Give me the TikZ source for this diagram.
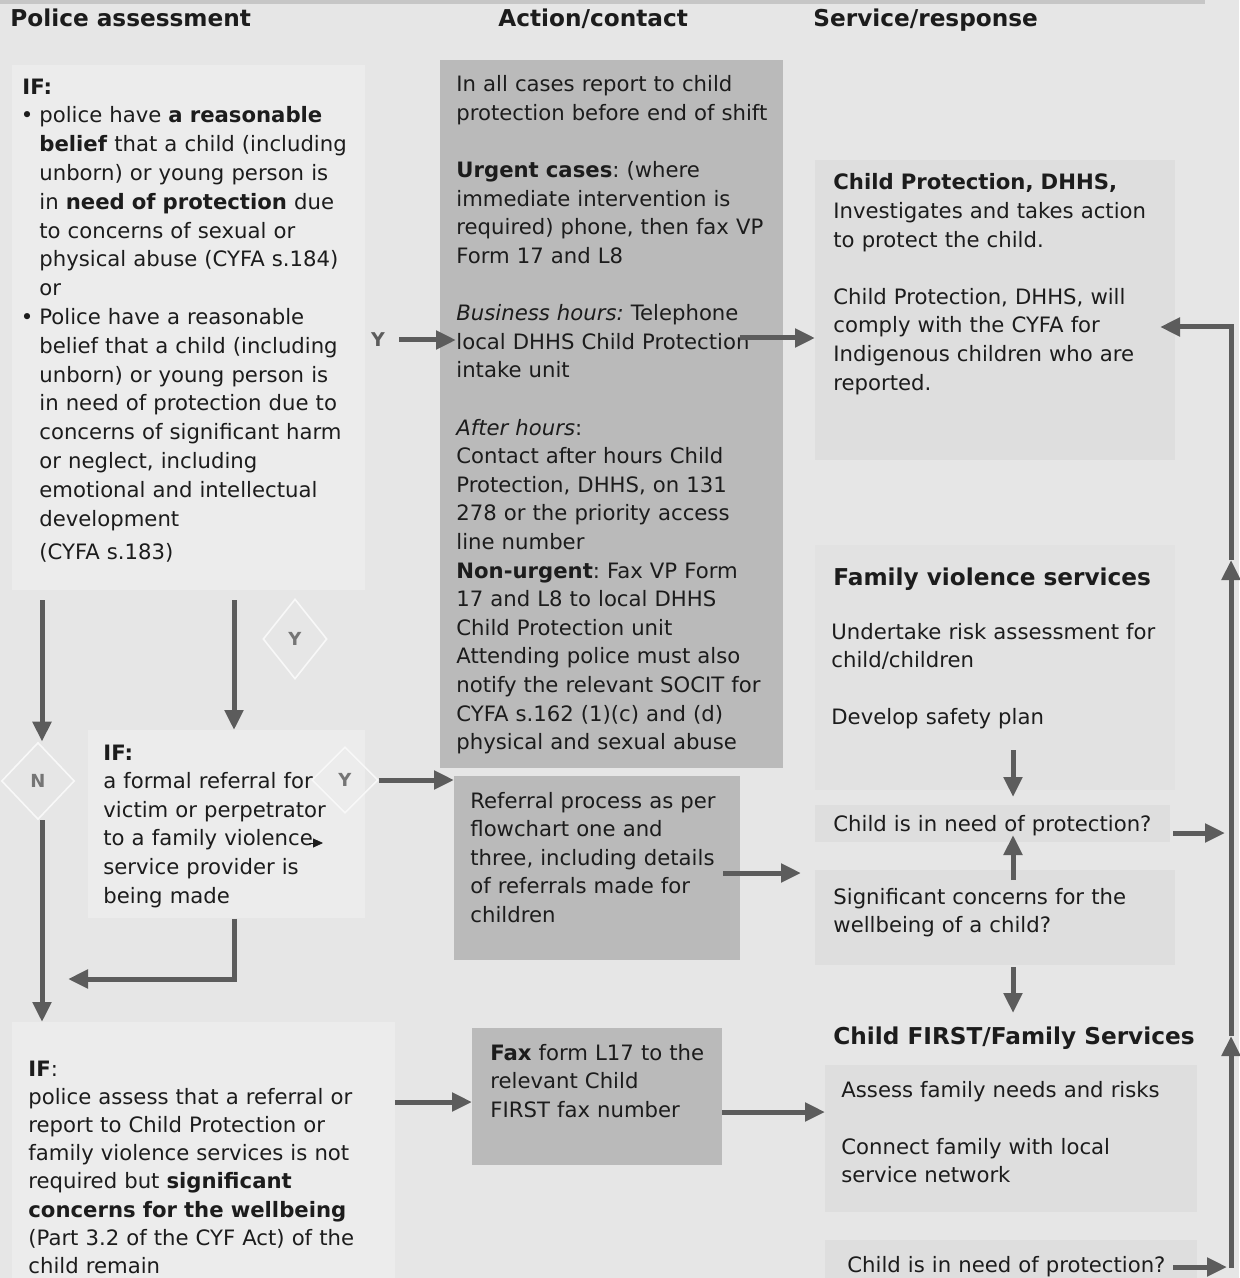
\documentclass[tikz,border=0pt]{standalone}
\usepackage{fontspec}
\setmainfont{DejaVu Sans}
\usetikzlibrary{calc,arrows.meta,shapes.geometric}
\frenchspacing

\definecolor{bggray}{HTML}{E6E6E6}
\definecolor{lgray}{HTML}{ECECEC}
\definecolor{mgray}{HTML}{BABABA}
\definecolor{rgray}{HTML}{DEDEDE}
\definecolor{fgray}{HTML}{E2E2E2}
\definecolor{arrgray}{HTML}{5C5C5C}
\definecolor{ink}{HTML}{1C1C1C}

\newcommand{\bodyfont}{\fontsize{10.6pt}{14.3pt}\selectfont}
\newcommand{\headfont}{\fontsize{11.6pt}{14pt}\selectfont\bfseries}
\newcommand{\gap}{\\[14.3pt]}

\tikzset{
  txt/.style={anchor=base west, inner sep=0pt, text width=190pt, align=left, font=\bodyfont, text=ink},
  head/.style={anchor=base west, inner sep=0pt, font=\headfont, text=ink},
  panel/.style={anchor=north west, inner sep=0pt, fill=#1},
  arr/.style={draw=arrgray, line width=2.5pt, -{Triangle[length=10pt,width=9pt]}},
  dia/.style={diamond, draw=white!70!bggray, line width=0.8pt, inner sep=0pt, font=\bfseries\fontsize{9pt}{9pt}\selectfont, text=arrgray!85},
  yes/.style={inner sep=0pt, font=\bfseries\fontsize{9.5pt}{9.5pt}\selectfont, text=arrgray}
}

\begin{document}
\begin{tikzpicture}[x=0.5pt,y=-0.5pt]
\useasboundingbox (0,0) rectangle (1239,1278);
\fill[bggray] (0,0) rectangle (1239,1278);
\fill[gray!45] (0,0) rectangle (1205,4);

\node[panel=lgray, minimum width=176.5pt, minimum height=262.5pt] (assbox) at (12,65) {};
\node[panel=mgray, minimum width=171.5pt, minimum height=354pt] (actbox) at (440,60) {};
\node[panel=rgray, minimum width=180pt, minimum height=150pt] (cpbox) at (815,160) {};
\node[panel=fgray, minimum width=180pt, minimum height=122.5pt] (fvbox) at (815,545) {};
\node[panel=rgray, minimum width=177.5pt, minimum height=18.5pt] (needbox1) at (815,805) {};
\node[panel=rgray, minimum width=180pt, minimum height=47.5pt] (sigbox) at (815,870) {};
\node[panel=rgray, minimum width=186pt, minimum height=73.5pt] (cfbox) at (825,1065) {};
\node[panel=rgray, minimum width=186pt, minimum height=20pt] (needbox2) at (825,1240) {};
\node[panel=lgray, minimum width=138.5pt, minimum height=94pt] (fbox) at (88,730) {};
\node[panel=mgray, minimum width=143pt, minimum height=92pt] (refbox) at (454,776) {};
\node[panel=lgray, minimum width=191.5pt, minimum height=130pt] (bbox) at (12,1022) {};
\node[panel=mgray, minimum width=125pt, minimum height=68.5pt] (fxbox) at (472,1028) {};

\node[head] (hpol) at (10,27) {Police assessment};
\node[head] (hact) at (498,27) {Action/contact};
\node[head] (hser) at (813,27) {Service/response};

\node[txt] (iftop) at (22,95) {\textbf{IF:}};
\node[txt, font=\fontsize{10.6pt}{14.4pt}\selectfont] (crit) at (39,123) {\leavevmode\llap{•\hspace{3pt}}police have \textbf{a reasonable}\\\textbf{belief} that a child (including\\unborn) or young person is\\in \textbf{need of protection} due\\to concerns of sexual or\\physical abuse (CYFA s.184)\\or\\\leavevmode\llap{•\hspace{3pt}}Police have a reasonable\\belief that a child (including\\unborn) or young person is\\in need of protection due to\\concerns of significant harm\\or neglect, including\\emotional and intellectual\\development\\[2.2pt](CYFA s.183)};

\node[txt] (acttxt) at (456,92) {In all cases report to child\\protection before end of shift\gap \textbf{Urgent cases}: (where\\immediate intervention is\\required) phone, then fax VP\\Form 17 and L8\gap \textit{Business hours:} Telephone\\local DHHS Child Protection\\intake unit\gap \textit{After hours}:\\Contact after hours Child\\Protection, DHHS, on 131\\278 or the priority access\\line number\\\textbf{Non-urgent}: Fax VP Form\\17 and L8 to local DHHS\\Child Protection unit\\Attending police must also\\notify the relevant SOCIT for\\CYFA s.162 (1)(c) and (d)\\physical and sexual abuse};

\node[txt] (cptxt) at (833,190) {\textbf{Child Protection, DHHS,}\\Investigates and takes action\\to protect the child.\gap Child Protection, DHHS, will\\comply with the CYFA for\\Indigenous children who are\\reported.};

\node[head] (fvhead) at (833,585) {Family violence services};
\node[txt] (fvtxt) at (831,639) {Undertake risk assessment for\\child/children\gap Develop safety plan};
\node[txt] (need1) at (833,831) {Child is in need of protection?};
\node[txt] (sigtxt) at (833,904) {Significant concerns for the\\wellbeing of a child?};
\node[head] (cfhead) at (833,1044) {Child FIRST/Family Services};
\node[txt] (cftxt) at (841,1097) {Assess family needs and risks\gap Connect family with local\\service network};
\node[txt] (need2) at (847,1272) {Child is in need of protection?};

\node[txt] (fvref) at (103,760) {\textbf{IF:}\\a formal referral for\\victim or perpetrator\\to a family violence\\service provider is\\being made};
\node[txt] (reftxt) at (470,808) {Referral process as per\\flowchart one and\\three, including details\\of referrals made for\\children};
\node[txt, font=\fontsize{10.6pt}{14.1pt}\selectfont] (concern) at (28,1076) {\textbf{IF}:\\police assess that a referral or\\report to Child Protection or\\family violence services is not\\required but \textbf{significant}\\\textbf{concerns for the wellbeing}\\(Part 3.2 of the CYF Act) of the\\child remain};
\node[txt] (faxtxt) at (490,1060) {\textbf{Fax} form L17 to the\\relevant Child\\FIRST fax number};

\node[yes] (yA) at (378,340) {Y};
\node[dia, minimum width=32pt, minimum height=40pt] (dY1) at (295,639) {Y};
\node[dia, minimum width=36.5pt, minimum height=38.5pt] (dN) at (38,781) {N};
\node[dia, minimum width=33pt, minimum height=33pt] (dY2) at (345,780) {Y};

\coordinate (p1) at (42,600);
\coordinate (p2) at (234,600);
\coordinate (b1) at (740,338);
\coordinate (c3) at (68,979);
\coordinate (r1) at (723,873);
\coordinate (q1) at (395,1102);
\coordinate (q2) at (722,1112);
\coordinate (m1) at (1013,750);
\coordinate (m1e) at (1013,797);
\coordinate (m2) at (1013,880);
\coordinate (m2e) at (1013,835);
\coordinate (m3) at (1013,967);
\coordinate (m3e) at (1013,1013);
\coordinate (s1) at (1173,833);
\coordinate (s2) at (1173,1267);
\coordinate (rt) at (1231,327);
\coordinate (rb) at (1231,1268);
\coordinate (v1) at (1231,1036);
\coordinate (v2) at (1231,560);
\coordinate (cpin) at (1160,327);
\coordinate (t1) at (309,843);
\coordinate (t2) at (323,843);

\draw[arr, shorten <=7pt] (yA.east) -- (acttxt.west |- yA);
\draw[arr] (b1) -- (b1 -| cpbox.west);
\draw[arr] (p1) -- (p1 |- dN.north);
\draw[arr] (p2) -- (p2 |- fbox.north);
\draw[arr] (dY2.east) -- (refbox.west |- dY2);
\draw[arr] (dN.south -| p1) -- (p1 |- bbox.north);
\draw[arr] (fbox.south -| p2) |- (c3);
\draw[arr, shorten >=7pt] (r1) -- (r1 -| sigbox.west);
\draw[arr] (q1) -- (q1 -| fxbox.west);
\draw[arr] (q2) -- (q2 -| cfbox.west);
\draw[arr] (m1) -- (m1e);
\draw[arr] (m2) -- (m2e);
\draw[arr] (m3) -- (m3e);
\draw[arr, shorten >=3pt] (s1) -- (s1 -| rt);
\draw[arr, shorten >=2pt] (s2) -- (s2 -| rb);
\draw[arr] (rb) -- (v1);
\draw[arr] (v1) -- (v2);
\draw[arr] (v2) -- (rt) -- (cpin);
\draw[ink, line width=0.4pt, -{Triangle[length=5pt,width=4.5pt]}] (t1) -- (t2);
\end{tikzpicture}
\end{document}
